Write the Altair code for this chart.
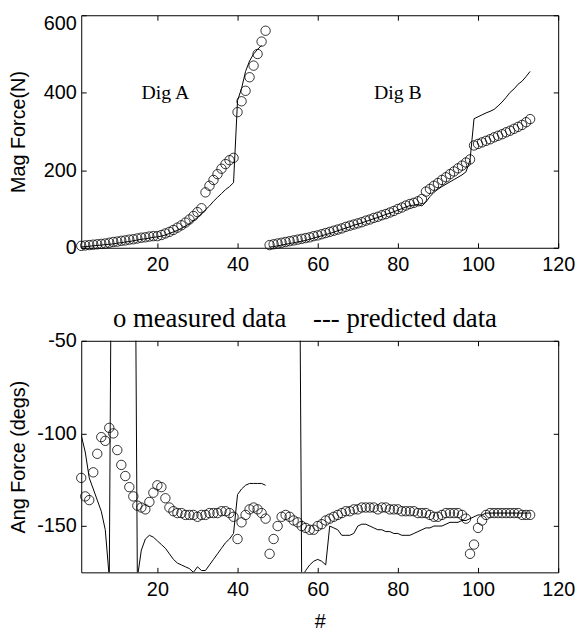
import altair as alt
import pandas as pd

# ---------------- data ----------------
X_TICKS = [20, 40, 60, 80, 100, 120]
MAG_TICKS = [0, 200, 400, 600]
ANG_TICKS = [-150, -100, -50]

# top panel: magnitude of force (N)
mag_x_a = list(range(1, 48))
mag_meas_a = [5, 6, 7, 8, 9, 10, 11, 13, 15, 16,
              18, 19, 21, 22, 24, 26, 27, 29, 30, 30,
              33, 37, 41, 46, 52, 58, 65, 73, 82, 92,
              102, 143, 160, 175, 190, 204, 216, 226, 232, 350,
              378, 405, 440, 470, 500, 532, 560]
mag_pred_x_a = list(range(1, 47))
mag_pred_a = [2, 3, 4, 5, 6, 7, 8, 9, 10, 12,
              13, 15, 16, 18, 20, 22, 23, 25, 27, 28,
              30, 33, 37, 41, 45, 50, 56, 62, 70, 78,
              88, 98, 108, 120, 130, 140, 150, 158, 168, 380,
              411, 455, 482, 500, 512, 522]

mag_x_b = list(range(48, 114))
mag_meas_b = [7, 9, 11, 13, 15, 17, 19, 21, 23, 25,
              27, 30, 32, 35, 38, 41, 44, 47, 50, 54,
              57, 60, 63, 66, 70, 73, 77, 80, 84, 87,
              91, 95, 100, 104, 109, 113, 116, 120, 126,
              145, 152, 160, 167, 175, 182, 190, 197, 205, 212, 220, 228,
              264, 268, 272, 276, 280, 285, 289, 293, 298, 302, 307, 312, 317, 324, 332]
mag_pred_b = [2, 3, 5, 7, 9, 11, 13, 15, 17, 19,
              22, 25, 28, 31, 34, 37, 40, 44, 47, 51,
              54, 58, 61, 64, 68, 71, 75, 78, 82, 86,
              89, 93, 97, 101, 105, 109, 110, 112, 108,
              118, 132, 143, 151, 158, 164, 170, 176, 182, 188, 196, 226,
              333, 338, 343, 348, 352, 357, 366, 376, 388, 401, 410, 422, 430, 442, 455]

# bottom panel: angle of force (degs)
ang_meas_a = [-124, -134, -136, -121, -111, -102, -104, -97, -100, -109,
              -117, -123, -129, -134, -139, -140, -141, -137, -132, -128,
              -129, -135, -140, -142, -143, -143, -144, -144, -144, -145,
              -144, -144, -143, -143, -143, -142, -142, -143, -145, -157,
              -148, -144, -141, -140, -141, -143, -146]
ang_meas_b = [-165, -157, -150, -145, -144, -145, -147, -148, -150, -151,
              -152, -152, -150, -149, -147, -146, -145, -144, -143, -142,
              -142, -141, -141, -140, -140, -140, -140, -141, -140, -140,
              -141, -141, -141, -142, -142, -142, -142, -143, -143, -143,
              -144, -145, -145, -144, -143, -143, -143, -143, -144, -146,
              -165, -160, -151, -147, -144, -143, -143, -143, -143, -143,
              -143, -143, -143, -144, -144, -144]
ang_pred_a = [-101, -110, -124, -130, -136, -142, -152, -178, 175, 172,
              170, 170, 172, 176, -178, -163, -157, -155, -156, -158,
              -160, -162, -165, -168, -170, -171, -172, -173, -175, -172,
              -174, -174, -171, -168, -165, -162, -159, -157, -154, -133,
              -130, -128, -127, -127, -127, -127, -128]
ang_pred_b = [170, 168, 166, 165, 166, 168, 172, 177, -178, -174,
              -171, -169, -168, -169, -171, -150, -151, -152, -155, -155,
              -155, -154, -150, -149, -149, -150, -151, -152, -152, -153,
              -153, -154, -154, -155, -155, -155, -154, -153, -152, -151,
              -151, -150, -150, -150, -149, -148, -148, -148, -147, -147,
              -146, -145, -144, -144, -143, -143, -143, -143, -143, -143,
              -143, -143, -143, -143, -143, -143]

dig_labels = ["Dig A", "Dig B"]
dig_label_x = [22, 80]
dig_label_y = [400, 400]

LEGEND_TEXT = "o measured data\u00a0\u00a0\u00a0\u00a0--- predicted data"

# ---------------- frames ----------------
def frame(xs, ys, dig):
    return pd.DataFrame({"x": xs, "y": ys, "dig": dig})

mag_meas = pd.concat([frame(mag_x_a, mag_meas_a, "A"), frame(mag_x_b, mag_meas_b, "B")])
mag_pred = pd.concat([frame(mag_pred_x_a, mag_pred_a, "A"), frame(mag_x_b, mag_pred_b, "B")])
ang_meas = pd.concat([frame(mag_x_a, ang_meas_a, "A"), frame(mag_x_b, ang_meas_b, "B")])
ang_pred = pd.concat([frame(mag_x_a, ang_pred_a, "A"), frame(mag_x_b, ang_pred_b, "B")])
labels_df = pd.DataFrame({"x": dig_label_x, "y": dig_label_y, "label": dig_labels})

SANS = "Liberation Sans"
SERIF = "Liberation Serif"
W, H1, H2 = 482, 235, 234

xscale = alt.Scale(domain=[1, 120], nice=False, zero=False)


def ax(orient, values, labels=True, title=None, **kw):
    return alt.Axis(orient=orient, values=values, labels=labels, title=title,
                    offset=-5, tickSize=5, domain=False, grid=False,
                    labelFlush=False, labelOverlap=False, **kw)


def panel(meas, pred, ymin, ymax, yticks, ytitle, height, xtitle=None, extra=None,
          title=None, top_label_shift=0):
    yscale = alt.Scale(domain=[ymin, ymax], nice=False, zero=False)
    xb = dict(labelPadding=7)
    if xtitle:
        xb.update(titleY=55, titleBaseline="middle")
    yb = dict(labelPadding=5, labelExpr="'' + datum.value",
              titleX=-68, titleBaseline="middle")
    if top_label_shift:
        # keep the topmost tick label inside the page
        yb["labelOffset"] = {"condition": {"test": f"datum.value == {ymax}",
                                           "value": top_label_shift}, "value": 0}
    pts = alt.Chart(meas).mark_point(shape="circle", filled=False, color="black",
                                     size=90, strokeWidth=0.8, opacity=1).encode(
        x=alt.X("x:Q", scale=xscale, axis=ax("bottom", X_TICKS, title=xtitle, **xb)),
        y=alt.Y("y:Q", scale=yscale, axis=ax("left", yticks, title=ytitle, **yb)),
    )
    line = alt.Chart(pred).mark_line(color="black", strokeWidth=1, clip=True).encode(
        x=alt.X("x:Q", scale=xscale, axis=ax("top", X_TICKS, labels=False)),
        y=alt.Y("y:Q", scale=yscale, axis=ax("right", yticks, labels=False)),
        detail="dig:N",
    )
    layers = [line, pts]
    if extra is not None:
        layers.append(extra)
    props = dict(width=W, height=height)
    if title is not None:
        props["title"] = title
    return alt.layer(*layers).resolve_axis(x="independent", y="independent").properties(**props)


dig_text = alt.Chart(labels_df).mark_text(font=SERIF, fontSize=20, color="black",
                                          baseline="middle", align="center").encode(
    x=alt.X("x:Q", scale=xscale, axis=None),
    y=alt.Y("y:Q", axis=None),
    text="label:N",
)

top = panel(mag_meas, mag_pred, 0, 600, MAG_TICKS, "Mag Force(N)", H1, extra=dig_text,
            top_label_shift=8)
bottom = panel(ang_meas, ang_pred, -175, -50, ANG_TICKS, "Ang Force (degs)", H2, xtitle="#",
               title=alt.TitleParams(text=LEGEND_TEXT, font=SERIF, fontSize=27,
                                     fontWeight="normal", color="black", anchor="start",
                                     dx=32, dy=39, offset=16, baseline="alphabetic",
                                     frame="group"))

chart = alt.vconcat(top, bottom, spacing=94, bounds="flush").properties(
    padding={"left": 0, "top": 1, "right": 0, "bottom": 0}
).configure_view(stroke="black", strokeWidth=1).configure_axis(
    labelFont=SANS, labelFontSize=20, labelColor="black", tickColor="black",
    tickWidth=1, titleFont=SANS, titleFontSize=20, titleFontWeight="normal",
    titleColor="black"
)

chart.save("out.html", embed_options={"renderer": "svg", "actions": False})
